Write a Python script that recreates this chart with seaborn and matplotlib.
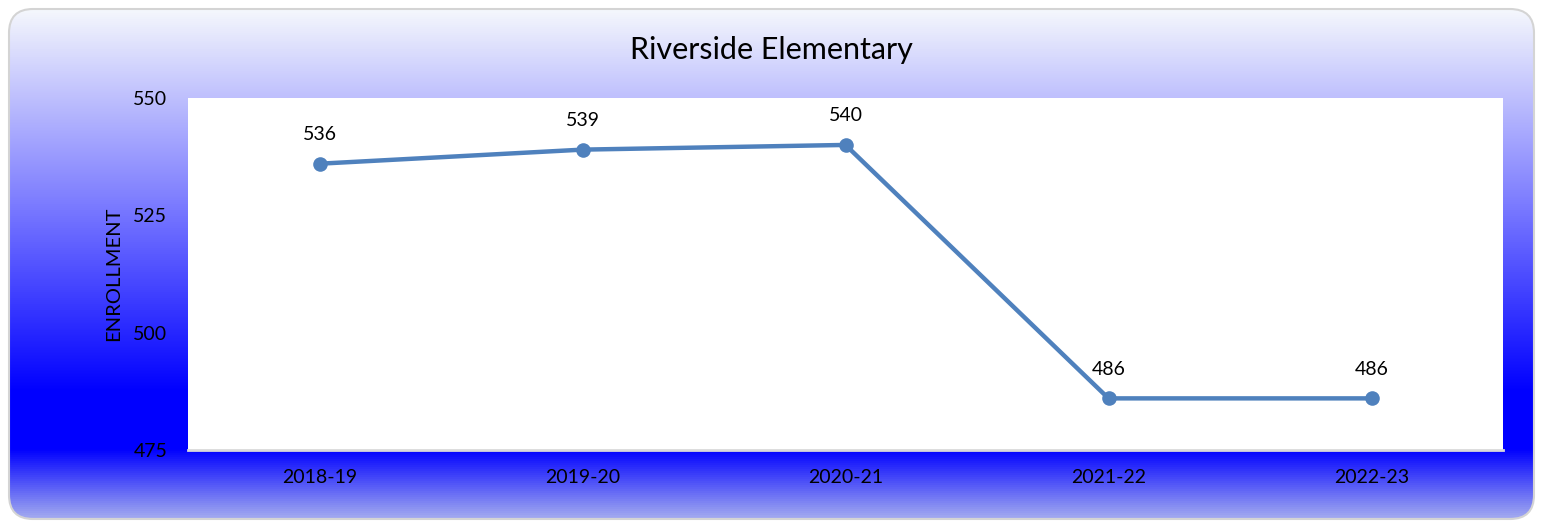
import numpy as np
import pandas as pd
import matplotlib
matplotlib.use("Agg")
import matplotlib.pyplot as plt
from matplotlib.patches import FancyBboxPatch
from matplotlib.colors import LinearSegmentedColormap
import seaborn as sns

years = ["2018-19", "2019-20", "2020-21", "2021-22", "2022-23"]
enrollment = [536, 539, 540, 486, 486]
y_ticks = [475, 500, 525, 550]

df = pd.DataFrame({"year": years, "enrollment": enrollment})

sns.set_style("white")
plt.rcParams["font.family"] = ["Lato", "DejaVu Sans"]
plt.rcParams["text.color"] = "black"
plt.rcParams["axes.labelcolor"] = "black"
plt.rcParams["xtick.color"] = "black"
plt.rcParams["ytick.color"] = "black"

W, H, DPI = 1543, 521, 100
fig = plt.figure(figsize=(W / DPI, H / DPI), dpi=DPI)
fig.patch.set_facecolor("white")

# Background panel with vertical gradient and rounded corners
bg = fig.add_axes([0, 0, 1, 1], zorder=0)
bg.set_xlim(0, W)
bg.set_ylim(H, 0)
bg.axis("off")
cmap = LinearSegmentedColormap.from_list(
    "panel",
    [(0.0, (0.96, 0.97, 0.99)),
     (0.37, (0.50, 0.50, 1.0)),
     (0.75, (0.0, 0.0, 1.0)),
     (0.865, (0.0, 0.0, 1.0)),
     (1.0, (0.64, 0.67, 0.94))])
grad = np.linspace(0, 1, 512).reshape(-1, 1)
x0, y0, x1, y1 = 9, 9, 1534, 519
img = bg.imshow(grad, cmap=cmap, aspect="auto", extent=(x0, x1, y1, y0), zorder=1)
panel = FancyBboxPatch((x0, y0), x1 - x0, y1 - y0,
                       boxstyle="round,pad=0,rounding_size=24",
                       facecolor="none", edgecolor="#D4D4D4", linewidth=1.5,
                       zorder=2)
bg.add_patch(panel)
img.set_clip_path(panel)

# Plot area
left, right, top, bottom = 188, 1503, 98, 450
ax = fig.add_axes([left / W, 1 - bottom / H, (right - left) / W, (bottom - top) / H], zorder=2)
ax.set_facecolor("white")

sns.lineplot(data=df, x="year", y="enrollment", ax=ax, color="#4F81BD",
             linewidth=3.2, marker="o", markersize=10.5, markeredgewidth=0,
             sort=False)

for i, v in enumerate(enrollment):
    ax.annotate(str(v), (i, v), xytext=(0, 15), textcoords="offset points",
                ha="center", va="bottom", fontsize=14, color="black")

ax.set_xlim(-0.5, len(years) - 0.5)
ax.set_ylim(475, 550)
ax.set_yticks(y_ticks)
ax.set_yticklabels([str(t) for t in y_ticks], fontsize=14)
ax.tick_params(axis="y", length=0, pad=15, labelcolor="black")
ax.tick_params(axis="x", length=0, pad=14, labelsize=14, labelcolor="black")
ax.set_xlabel("")
ax.set_ylabel("ENROLLMENT", fontsize=14.5, labelpad=8, color="black")
for s in ["top", "left", "right"]:
    ax.spines[s].set_visible(False)
ax.spines["bottom"].set_color("#D9D9D9")
ax.spines["bottom"].set_linewidth(2)

fig.text(771 / W, 1 - 50 / H, "Riverside Elementary", ha="center", va="center",
         fontsize=22, color="black")

fig.savefig("out.png", dpi=DPI)
